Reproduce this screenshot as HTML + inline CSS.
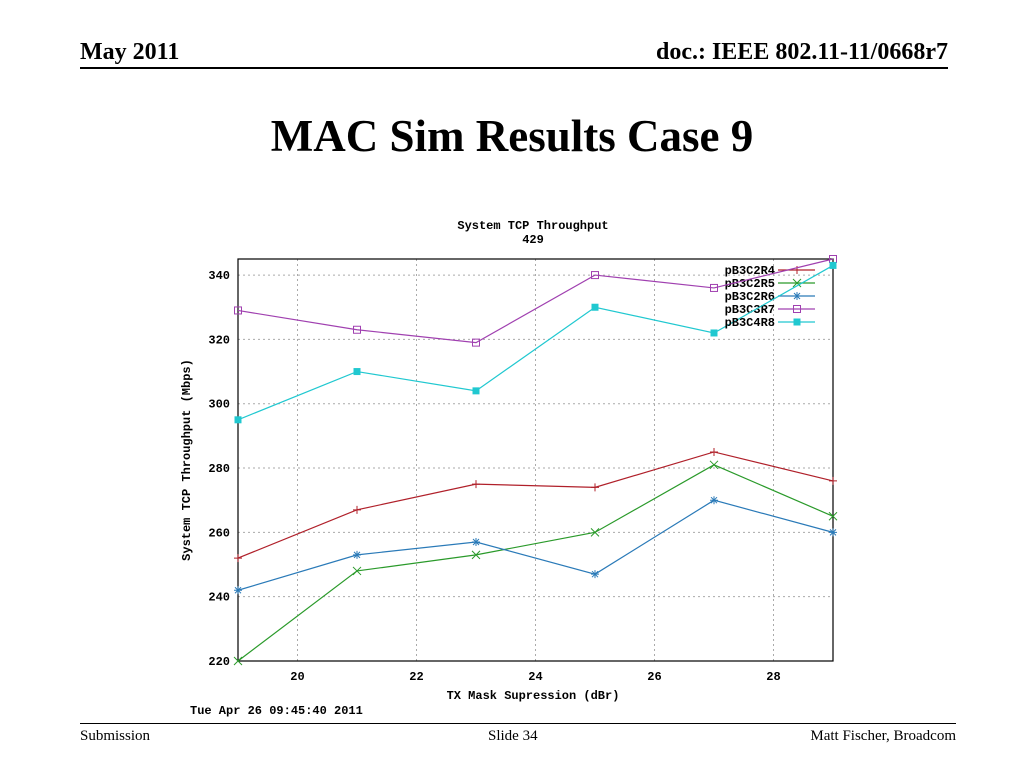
<!DOCTYPE html>
<html><head><meta charset="utf-8"><style>
body{margin:0;width:1024px;height:768px;background:#fff;position:relative;overflow:hidden;font-family:"Liberation Serif",serif}
.a{position:absolute;white-space:nowrap}
</style></head><body>
<div class="a" style="left:80px;top:39px;font-size:24px;font-weight:bold">May 2011</div>
<div class="a" style="right:76px;top:39px;font-size:24px;font-weight:bold">doc.: IEEE 802.11-11/0668r7</div>
<div class="a" style="left:80px;top:67px;width:868px;height:2px;background:#000"></div>
<div class="a" style="left:0;width:1024px;text-align:center;top:110px;font-size:45px;font-weight:bold">MAC Sim Results Case 9</div>
<div class="a" style="left:80px;top:723px;width:876px;height:1px;background:#000"></div>
<div class="a" style="left:80px;top:728px;font-size:15px">Submission</div>
<div class="a" style="left:488px;top:728px;font-size:15px">Slide 34</div>
<div class="a" style="right:68px;top:728px;font-size:15px">Matt Fischer, Broadcom</div>
<svg id="chart" class="a" style="left:0;top:0" width="1024" height="768" font-family="Liberation Mono, monospace" font-weight="bold" font-size="12"></svg>
<script>
const xs=[19,21,23,25,27,29];
const names=["pB3C2R4","pB3C2R5","pB3C2R6","pB3C3R7","pB3C4R8"];
const r4=[252,267,275,274,285,276];
const r5=[220,248,253,260,281,265];
const r6=[242,253,257,247,270,260];
const r7=[329,323,319,340,336,345];
const r8=[295,310,304,330,322,343];
const xTicks=[20,22,24,26,28];
const yTicks=[220,240,260,280,300,320,340];
const series=[r4,r5,r6,r7,r8];
const colors=["#b0202a","#2a9a2a","#2a7ab8","#a040b0","#20c8d0"];
const markers=["plus","x","star","sq","fsq"];
const L=238,R=833,T=259,B=661,x0=19,x1=29,y0=220,y1=345;
const X=v=>L+(v-x0)/(x1-x0)*(R-L), Y=v=>B-(v-y0)/(y1-y0)*(B-T);
const svg=document.getElementById('chart'),NS="http://www.w3.org/2000/svg";
function mk(t,a,p){const e=document.createElementNS(NS,t);for(const k in a)e.setAttribute(k,a[k]);(p||svg).appendChild(e);return e;}
function txt(s,x,y,anc,name,extra){const e=mk('text',Object.assign({x:x,y:y,'text-anchor':anc},extra||{}));e.textContent=s;

return e;}
txt("System TCP Throughput",533,229,"middle","chart-title");
txt("429",533,243,"middle","chart-subtitle");
yTicks.forEach(v=>{const g=mk('line',{x1:L,x2:R,y1:Y(v),y2:Y(v),stroke:"#aaa","stroke-dasharray":"2,3"});


txt(String(v),230,Y(v)+4,"end","y-tick-label");});
xTicks.forEach(v=>{const g=mk('line',{x1:X(v),x2:X(v),y1:T,y2:B,stroke:"#aaa","stroke-dasharray":"2,3"});


txt(String(v),X(v),680,"middle","x-tick-label");});
const fr=mk('rect',{x:L,y:T,width:R-L,height:B-T,fill:"none",stroke:"#000","stroke-width":1.2});


txt("TX Mask Supression (dBr)",533,699,"middle","x-axis-title");
txt("System TCP Throughput (Mbps)",190,460,"middle","y-axis-title",{transform:"rotate(-90 190 460)"});
txt("Tue Apr 26 09:45:40 2011",190,714,"start","timestamp");
function marker(type,x,y,c,p){let e;
if(type=="plus")e=mk('path',{d:`M${x-4} ${y}h8M${x} ${y-4}v8`,stroke:c,fill:"none"},p);
else if(type=="x")e=mk('path',{d:`M${x-4} ${y-4}l8 8M${x-4} ${y+4}l8 -8`,stroke:c,fill:"none"},p);
else if(type=="star")e=mk('path',{d:`M${x-4} ${y}h8M${x} ${y-4}v8M${x-3} ${y-3}l6 6M${x-3} ${y+3}l6 -6`,stroke:c,fill:"none"},p);
else if(type=="sq")e=mk('rect',{x:x-3.5,y:y-3.5,width:7,height:7,stroke:c,fill:"none"},p);
else e=mk('rect',{x:x-3.5,y:y-3.5,width:7,height:7,fill:c},p);
return e;}
series.forEach((s,i)=>{const g=mk('g',{});


mk('polyline',{points:s.map((v,j)=>X(xs[j])+","+Y(v)).join(" "),fill:"none",stroke:colors[i],"stroke-width":1.2},g);
s.forEach((v,j)=>{const m=marker(markers[i],X(xs[j]),Y(v),colors[i],g);

});
const ly=270+i*13;
const lg=mk('g',{},g);


const t=mk('text',{x:775,y:ly+4,'text-anchor':"end"},lg);t.textContent=names[i];
mk('line',{x1:778,x2:815,y1:ly,y2:ly,stroke:colors[i],"stroke-width":1.2},lg);
marker(markers[i],797,ly,colors[i],lg);});
</script>
</body></html>
